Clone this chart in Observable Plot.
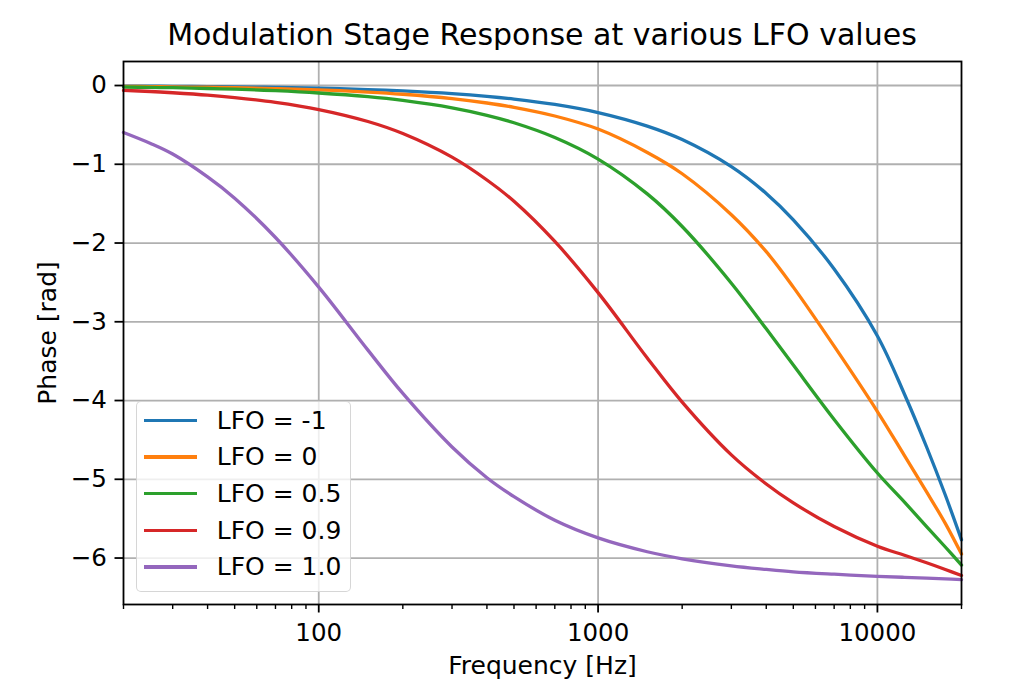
<!DOCTYPE html>
<html><head><meta charset="utf-8">
<script src="https://cdn.jsdelivr.net/npm/d3@7"></script>
<script src="https://cdn.jsdelivr.net/npm/@observablehq/plot@0.6"></script>
<style>
html,body{margin:0;padding:0;background:#fff;}
#wrap{position:relative;width:1014px;height:698px;background:#fff;font-family:"DejaVu Sans",sans-serif;color:#000;overflow:hidden}
#title{position:absolute;left:123px;width:838px;top:19.6px;font-size:30px;line-height:30px;text-align:center;white-space:nowrap}
#chart{position:absolute;left:0;top:50px}
#chart svg{display:block}
#legend{position:absolute;left:135.7px;top:401px;width:215px;height:191.3px;box-sizing:border-box;border:1.5px solid rgba(204,204,204,0.8);border-radius:5px;background:rgba(255,255,255,0.8)}
.sw{position:absolute;left:7.1px;width:53.4px;height:3.3px}
.lb{position:absolute;left:80.1px;font-size:25px;line-height:25px;white-space:nowrap}
</style></head>
<body><div id="wrap"><div id="title">Modulation Stage Response at various LFO values</div><div id="chart"></div><div id="legend"></div></div>
<script>
// Frequencies (Hz) at which the curves were read
const freqs = [20, 25, 30, 40, 50, 70, 100, 150, 200, 300, 400, 500, 700, 1000, 1500, 2000, 3000, 4000, 5000, 7000, 10000, 12500, 15000, 17500, 20000];

// Phase [rad] per LFO value
const lfoMinus1 = [-0.007, -0.009, -0.010, -0.014, -0.017, -0.024, -0.034, -0.051, -0.069, -0.103, -0.137, -0.172, -0.240, -0.343, -0.515, -0.686, -1.03, -1.37, -1.705, -2.33, -3.18, -3.92, -4.59, -5.20, -5.77];
const lfo0 = [-0.011, -0.014, -0.017, -0.022, -0.028, -0.039, -0.055, -0.083, -0.111, -0.166, -0.222, -0.277, -0.387, -0.553, -0.85, -1.12, -1.64, -2.11, -2.56, -3.31, -4.14, -4.70, -5.16, -5.56, -5.95];
const lfo05 = [-0.019, -0.024, -0.028, -0.038, -0.047, -0.066, -0.095, -0.142, -0.190, -0.284, -0.379, -0.473, -0.660, -0.934, -1.376, -1.79, -2.51, -3.09, -3.55, -4.24, -4.92, -5.29, -5.60, -5.86, -6.09];
const lfo09 = [-0.061, -0.076, -0.092, -0.122, -0.153, -0.214, -0.305, -0.457, -0.61, -0.91, -1.20, -1.47, -1.98, -2.63, -3.46, -4.02, -4.69, -5.06, -5.30, -5.60, -5.85, -5.965, -6.06, -6.145, -6.222];
const lfo10 = [-0.596, -0.735, -0.87, -1.16, -1.43, -1.93, -2.56, -3.36, -3.91, -4.59, -4.98, -5.22, -5.52, -5.744, -5.92, -6.01, -6.10, -6.145, -6.175, -6.205, -6.232, -6.245, -6.255, -6.265, -6.275];

const labels = ["LFO = -1", "LFO = 0", "LFO = 0.5", "LFO = 0.9", "LFO = 1.0"];
const colors = ["#1f77b4", "#ff7f0e", "#2ca02c", "#d62728", "#9467bd"];

const xMajorTicks = [100, 1000, 10000];
const xMinorTicks = [20, 30, 40, 50, 60, 70, 80, 90, 200, 300, 400, 500, 600, 700, 800, 900, 2000, 3000, 4000, 5000, 6000, 7000, 8000, 9000, 20000];
const yTicks = [-6, -5, -4, -3, -2, -1, 0];

const seriesValues = [lfoMinus1, lfo0, lfo05, lfo09, lfo10];
const table = seriesValues.flatMap((vals, s) => freqs.map((f, i) => ({f, phase: vals[i], label: labels[s]})));

const minusFmt = d => d < 0 ? "\u2212" + Math.abs(d) : String(d);

const chart = Plot.plot({
  width: 1014,
  height: 648,
  marginLeft: 123,
  marginRight: 53,
  marginTop: 11,
  marginBottom: 94,
  style: {fontFamily: "DejaVu Sans", fontSize: "24.5px", background: "white", color: "black", overflow: "visible"},
  x: {type: "log", domain: [20, 20000]},
  y: {domain: [-6.59, 0.305]},
  color: {domain: labels, range: colors},
  marks: [
    Plot.gridX(xMajorTicks, {stroke: "#b0b0b0", strokeOpacity: 1, strokeWidth: 1.8}),
    Plot.gridY(yTicks, {stroke: "#b0b0b0", strokeOpacity: 1, strokeWidth: 1.8}),
    Plot.line(table, {x: "f", y: "phase", z: "label", stroke: "label", strokeWidth: 3.3, curve: "catmull-rom"}),
    Plot.frame({stroke: "black", strokeWidth: 1.8}),
    Plot.axisX(xMajorTicks, {tickSize: 8.5, tickPadding: 11, strokeWidth: 1.8, tickFormat: d => String(d), label: null}),
    Plot.axisX(xMinorTicks, {tickSize: 5, strokeWidth: 1.4, tickFormat: () => "", label: null}),
    Plot.axisY(yTicks, {tickSize: 8.5, tickPadding: 8.2, strokeWidth: 1.8, tickFormat: minusFmt, label: null}),
    Plot.text(["Frequency [Hz]"], {text: d => d, frameAnchor: "bottom", dy: 69.5, lineAnchor: "bottom", textAnchor: "middle", fontSize: 25}),
    Plot.text(["Phase [rad]"], {text: d => d, frameAnchor: "left", rotate: -90, dx: -68, lineAnchor: "bottom", textAnchor: "middle", fontSize: 25})
  ]
});
document.getElementById("chart").appendChild(chart);

// Legend
const legend = document.getElementById("legend");
labels.forEach((lab, i) => {
  const sw = document.createElement("div");
  sw.className = "sw";
  sw.style.top = (16.55 + 36.7 * i) + "px";
  sw.style.background = colors[i];
  legend.appendChild(sw);
  const t = document.createElement("div");
  t.className = "lb";
  t.style.top = (5.65 + 36.7 * i) + "px";
  t.textContent = lab;
  legend.appendChild(t);
});
</script>
</body></html>
